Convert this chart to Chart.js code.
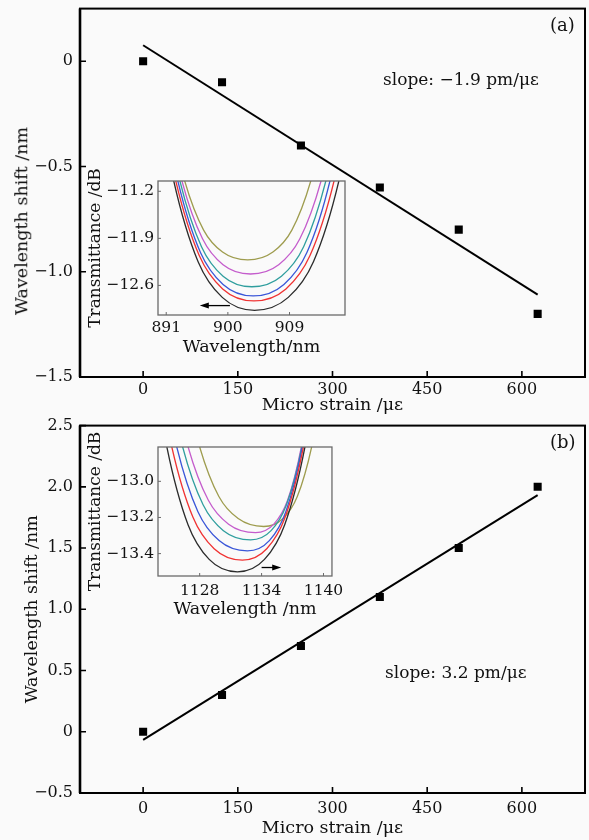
<!DOCTYPE html>
<html><head><meta charset="utf-8">
<script src="https://cdn.jsdelivr.net/npm/chart.js@4.4.0/dist/chart.umd.min.js"></script>
<style>
html,body{margin:0;padding:0;background:#fafafa;}
#wrap{position:relative;width:589px;height:840px;overflow:hidden;}
.box{position:absolute;}
.lbl{position:absolute;font-family:'DejaVu Serif',serif;color:#111;white-space:nowrap;line-height:1;}
</style></head><body>
<div id="wrap">
  <div class="box" style="left:0;top:-8px;width:589px;height:428px"><canvas id="mainA"></canvas></div>
  <div class="box" style="left:0;top:409px;width:589px;height:431px"><canvas id="mainB"></canvas></div>
  <div class="box" style="left:85px;top:158px;width:275px;height:202px"><canvas id="insetA"></canvas></div>
  <div class="box" style="left:85px;top:428px;width:265px;height:194px"><canvas id="insetB"></canvas></div>
  <div class="lbl" style="left:22px;top:221px;font-size:17.5px;transform:translate(-50%,-50%) rotate(-90deg)">Wavelength shift /nm</div>
  <div class="lbl" style="left:550px;top:16px;font-size:18px">(a)</div>
  <div class="lbl" style="left:550px;top:433px;font-size:18px">(b)</div>
  <div class="lbl" style="left:383px;top:71px;font-size:17px">slope: −1.9 pm/με</div>
  <div class="lbl" style="left:385px;top:664px;font-size:17px">slope: 3.2 pm/με</div>
</div>
<script>
// ---------- main panels ----------
const strainX = [0, 125, 250, 375, 500, 625];
const shiftA = [0, -0.1, -0.4, -0.6, -0.8, -1.2];
const shiftB = [0, 0.3, 0.7, 1.1, 1.5, 2.0];
const fitX = [0, 625];
const fitA = [0.076, -1.109];
const fitB = [-0.067, 1.933];
const strainTicks = [0, 150, 300, 450, 600];
const shiftTicksA = [-1.5, -1.0, -0.5, 0];
const shiftTicksB = [-0.5, 0, 0.5, 1.0, 1.5, 2.0, 2.5];

// ---------- inset (a): spectra near 900 nm ----------
const wlA_k = [890.33, 892.1, 895.64, 899.18, 903.9, 908.82, 912.51, 916.2, 918.05];
const tA_k  = [-10.059, -11.047, -12.243, -12.778, -12.97, -12.778, -12.243, -11.047, -10.059];
const wlA_r = [890.69, 892.4, 895.82, 899.24, 903.8, 908.48, 911.99, 915.5, 917.26];
const tA_r  = [-10.131, -11.047, -12.156, -12.652, -12.83, -12.652, -12.156, -11.047, -10.131];
const wlA_b = [891.05, 892.7, 896.0, 899.3, 903.7, 908.18, 911.54, 914.9, 916.58];
const tA_b  = [-10.169, -11.047, -12.110, -12.585, -12.756, -12.585, -12.110, -11.047, -10.169];
const wlA_c = [891.42, 893.0, 896.15, 899.3, 903.5, 907.82, 911.06, 914.3, 915.92];
const tA_c  = [-10.238, -11.047, -12.025, -12.463, -12.62, -12.463, -12.025, -11.047, -10.238];
const wlA_m = [891.8, 893.3, 896.3, 899.3, 903.3, 907.42, 910.51, 913.6, 915.15];
const tA_m  = [-10.336, -11.047, -11.907, -12.292, -12.43, -12.292, -11.907, -11.047, -10.336];
const wlA_y = [892.32, 893.7, 896.46, 899.22, 902.9, 906.58, 909.34, 912.1, 913.48];
const tA_y  = [-10.444, -11.047, -11.777, -12.103, -12.22, -12.103, -11.777, -11.047, -10.444];
const insetTicksAX = [891, 900, 909];
const insetTicksAY = [-12.6, -11.9, -11.2];
const arrowAX = [900.3, 895.9];
const arrowAY = -12.90;

// ---------- inset (b): spectra near 1132 nm ----------
const wlB_k = [1123.79, 1124.82, 1126.87, 1128.92, 1131.66, 1134.28, 1136.24, 1138.2, 1139.18];
const tB_k  = [-12.455, -12.81, -13.240, -13.432, -13.501, -13.432, -13.240, -12.81, -12.455];
const wlB_r = [1124.27, 1125.3, 1127.35, 1129.4, 1132.14, 1134.5, 1136.28, 1138.05, 1138.94];
const tB_r  = [-12.488, -12.81, -13.199, -13.373, -13.436, -13.373, -13.199, -12.81, -12.488];
const wlB_b = [1124.75, 1125.78, 1127.83, 1129.88, 1132.62, 1134.75, 1136.35, 1137.95, 1138.75];
const tB_b  = [-12.514, -12.81, -13.168, -13.328, -13.385, -13.328, -13.168, -12.81, -12.514];
const wlB_c = [1125.36, 1126.35, 1128.33, 1130.3, 1132.94, 1134.92, 1136.41, 1137.9, 1138.64];
const tB_c  = [-12.546, -12.81, -13.130, -13.273, -13.324, -13.273, -13.130, -12.81, -12.546];
const wlB_m = [1125.9, 1126.88, 1128.84, 1130.8, 1133.41, 1135.19, 1136.52, 1137.85, 1138.52];
const tB_m  = [-12.566, -12.81, -13.105, -13.237, -13.284, -13.237, -13.105, -12.81, -12.566];
const wlB_y = [1127.07, 1128.0, 1129.86, 1131.73, 1134.21, 1136.07, 1137.46, 1138.85, 1139.55];
const tB_y  = [-12.584, -12.81, -13.084, -13.206, -13.25, -13.206, -13.084, -12.81, -12.584];
const insetTicksBX = [1128, 1134, 1140];
const insetTicksBY = [-13.4, -13.2, -13.0];
const arrowBX = [1134.0, 1135.9];
const arrowBY = -13.477;

const curveColors = ['#2b2b2b', '#f03232', '#3a56d8', '#2f9e9e', '#c45ccc', '#9e9c4e'];

Chart.defaults.font.family = "'DejaVu Serif', serif";
Chart.defaults.color = '#111';

const fmt1 = v => v === 0 ? '0' : (v < 0 ? '\u2212' : '') + Math.abs(v).toFixed(1);
const pts = (xs, ys) => xs.map((x, i) => ({x: x, y: ys[i]}));

const framePlugin = {
  id: 'frame',
  afterDatasetsDraw(chart, args, o) {
    if (!o || !o.on) return;
    const {ctx, chartArea: a} = chart;
    const xs = chart.scales.x, ys = chart.scales.y;
    ctx.save();
    ctx.strokeStyle = o.color;
    ctx.lineWidth = o.width;
    ctx.strokeRect(a.left, a.top, a.right - a.left, a.bottom - a.top);
    if (o.leftWidth) {
      ctx.lineWidth = o.leftWidth;
      ctx.beginPath(); ctx.moveTo(a.left, a.top); ctx.lineTo(a.left, a.bottom); ctx.stroke();
    }
    ctx.lineWidth = o.tickWidth;
    ctx.beginPath();
    xs.ticks.forEach(t => {
      const px = xs.getPixelForValue(t.value);
      ctx.moveTo(px, a.bottom); ctx.lineTo(px, a.bottom - o.tickLen);
    });
    ys.ticks.forEach(t => {
      const py = ys.getPixelForValue(t.value);
      ctx.moveTo(a.left, py); ctx.lineTo(a.left + o.tickLen, py);
    });
    ctx.stroke();
    ctx.restore();
  }
};

const arrowPlugin = {
  id: 'arrow',
  afterDatasetsDraw(chart, args, o) {
    if (!o || !o.x) return;
    const {ctx} = chart;
    const xs = chart.scales.x, ys = chart.scales.y;
    const x0 = xs.getPixelForValue(o.x[0]), x1 = xs.getPixelForValue(o.x[1]);
    const y = ys.getPixelForValue(o.y);
    const d = Math.sign(x1 - x0);
    ctx.save();
    ctx.strokeStyle = '#000'; ctx.fillStyle = '#000'; ctx.lineWidth = 1.3;
    ctx.beginPath(); ctx.moveTo(x0, y); ctx.lineTo(x1 - d * 4, y); ctx.stroke();
    ctx.beginPath(); ctx.moveTo(x1, y); ctx.lineTo(x1 - d * 9, y - 3); ctx.lineTo(x1 - d * 9, y + 3); ctx.closePath(); ctx.fill();
    ctx.restore();
  }
};

function mainChart(id, ys, fit, yMin, yMax, yTicks, cfg) {
  return new Chart(document.getElementById(id), {
    type: 'scatter',
    data: {
      datasets: [
        {data: pts(fitX, fit), showLine: true, borderColor: '#000', borderWidth: 2, pointRadius: 0, fill: false},
        {data: pts(strainX, ys), showLine: false, pointStyle: 'rect', pointRadius: 5.7, backgroundColor: '#000', borderColor: '#000', borderWidth: 0}
      ]
    },
    options: {
      responsive: true, maintainAspectRatio: false, animation: false,
      layout: {autoPadding: false, padding: {top: cfg.padTop, right: 4, left: 0, bottom: 0}},
      plugins: {legend: {display: false}, tooltip: {enabled: false},
        frame: {on: true, color: '#000', width: 2, leftWidth: 2.6, tickLen: 6, tickWidth: 1.6}},
      scales: {
        x: {
          type: 'linear', min: -100, max: 700,
          afterBuildTicks: s => { s.ticks = strainTicks.map(v => ({value: v})); },
          afterFit: s => { s.height = cfg.xH; },
          grid: {display: false, drawTicks: false}, border: {display: false},
          ticks: {font: {size: 16}, color: '#111', padding: cfg.xPad, maxRotation: 0, autoSkip: false, callback: v => String(v)},
          title: {display: true, text: 'Micro strain /με', font: {size: 17.5}, color: '#111', padding: {top: 0, bottom: cfg.xTitlePad}}
        },
        y: {
          type: 'linear', min: yMin, max: yMax,
          afterBuildTicks: s => { s.ticks = yTicks.map(v => ({value: v})); },
          afterFit: s => { s.width = 80; },
          grid: {display: false, drawTicks: false}, border: {display: false},
          ticks: {font: {size: 16}, color: '#111', padding: 7, autoSkip: false, callback: v => fmt1(v)},
          title: {display: cfg.yTitle, text: 'Wavelength shift /nm', font: {size: 17.5}, color: '#111', padding: {top: cfg.yTitlePad, bottom: 0}}
        }
      }
    },
    plugins: [framePlugin]
  });
}

function insetChart(id, curves, xMin, xMax, yMin, yMax, xTicks, yTicks, arrow, cfg) {
  return new Chart(document.getElementById(id), {
    type: 'scatter',
    data: {
      datasets: curves.map((c, i) => ({
        data: pts(c[0], c[1]), showLine: true, borderColor: curveColors[i], borderWidth: 1.3,
        pointRadius: 0, fill: false, cubicInterpolationMode: 'monotone'
      }))
    },
    options: {
      responsive: true, maintainAspectRatio: false, animation: false,
      layout: {autoPadding: false, padding: {top: cfg.padTop, right: cfg.padRight, left: 0, bottom: 0}},
      plugins: {legend: {display: false}, tooltip: {enabled: false},
        frame: {on: true, color: '#6a6a6a', width: 1.3, tickLen: 3, tickWidth: 1},
        arrow: arrow},
      scales: {
        x: {
          type: 'linear', min: xMin, max: xMax,
          afterBuildTicks: s => { s.ticks = xTicks.map(v => ({value: v})); },
          afterFit: s => { s.height = cfg.xH; },
          grid: {display: false, drawTicks: false}, border: {display: false},
          ticks: {font: {size: 15.5}, color: '#111', padding: cfg.xPad, maxRotation: 0, autoSkip: false, callback: v => String(v)},
          title: {display: true, text: cfg.xTitle, font: {size: 17.5}, color: '#111', padding: {top: 0, bottom: cfg.xTitlePad}}
        },
        y: {
          type: 'linear', min: yMin, max: yMax,
          afterBuildTicks: s => { s.ticks = yTicks.map(v => ({value: v})); },
          afterFit: s => { s.width = 73; },
          grid: {display: false, drawTicks: false}, border: {display: false},
          ticks: {font: {size: 15.5}, color: '#111', padding: 4, autoSkip: false, callback: v => fmt1(v)},
          title: {display: true, text: 'Transmittance /dB', font: {size: 17}, color: '#111', padding: {top: 0, bottom: 0}}
        }
      }
    },
    plugins: [framePlugin, arrowPlugin]
  });
}

mainChart('mainA', shiftA, fitA, -1.5, 0.25, shiftTicksA,
  {padTop: 8, xH: 43, xPad: 3.5, xTitlePad: 4.5, yTitle: false, yTitlePad: 11});
mainChart('mainB', shiftB, fitB, -0.5, 2.5, shiftTicksB,
  {padTop: 5, xH: 47, xPad: 6, xTitlePad: 1.5, yTitle: true, yTitlePad: 21.5});

insetChart('insetA',
  [[wlA_k, tA_k], [wlA_r, tA_r], [wlA_b, tA_b], [wlA_c, tA_c], [wlA_m, tA_m], [wlA_y, tA_y]],
  889.8, 917.1, -13.04, -11.047, insetTicksAX, insetTicksAY, {x: arrowAX, y: arrowAY},
  {padTop: 23, padRight: 15, xH: 45, xPad: 3.5, xTitlePad: 1.8, xTitle: 'Wavelength/nm'});
insetChart('insetB',
  [[wlB_k, tB_k], [wlB_r, tB_r], [wlB_b, tB_b], [wlB_c, tB_c], [wlB_m, tB_m], [wlB_y, tB_y]],
  1123.96, 1140.82, -13.524, -12.81, insetTicksBX, insetTicksBY, {x: arrowBX, y: arrowBY},
  {padTop: 19, padRight: 16, xH: 46, xPad: 6, xTitlePad: 1.8, xTitle: 'Wavelength /nm'});
</script>
</body></html>
